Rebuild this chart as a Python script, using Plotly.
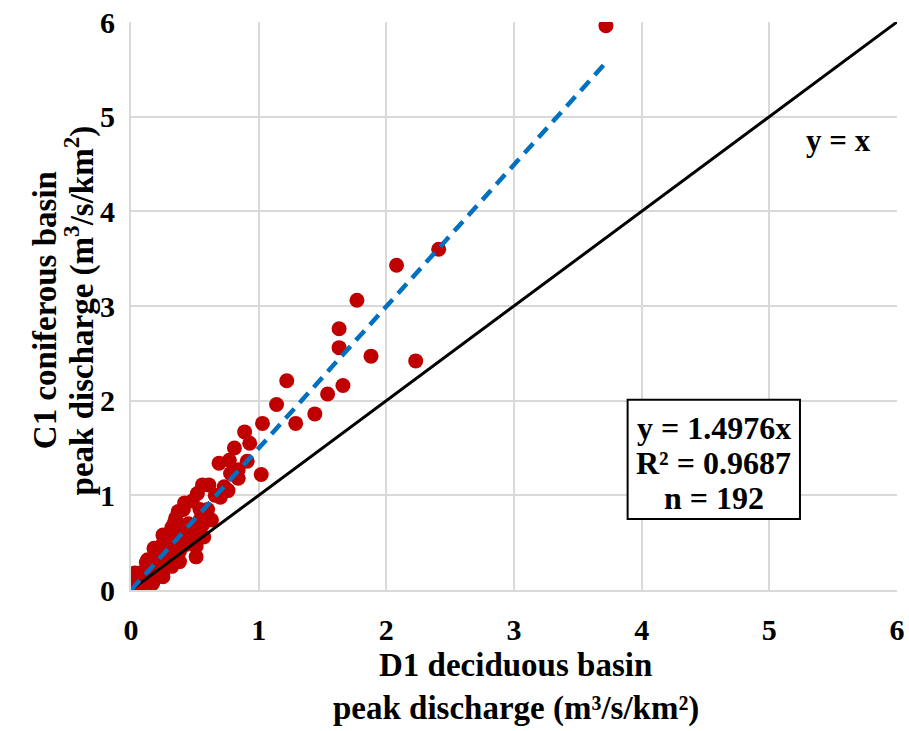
import plotly.graph_objects as go

# Peak discharge per unit area, paired events (D1 deciduous vs C1 coniferous)
d1_peak = [
    3.72, 2.41, 2.08, 2.23, 1.77, 1.88, 1.63, 1.63, 1.66, 1.54,
    1.44, 1.22, 1.14, 1.29, 1.03, 0.89, 0.93, 0.81, 0.69, 0.77,
    0.91, 1.02, 0.84, 0.84, 0.78, 0.61, 0.56, 0.73, 0.76, 0.52,
    0.48, 0.42, 0.41, 0.37, 0.60, 0.54, 0.35, 0.34, 0.63, 0.54,
    0.56, 0.47, 0.33, 0.32, 0.25, 0.52, 0.57, 0.47, 0.43, 0.51,
    0.25, 0.18, 0.19, 0.38, 0.51, 0.38, 0.32, 0.13, 0.12, 0.25,
    0.25, 0.20, 0.07, 0.03, 0.17, 0.08, 0.00, 0.00, 0.10, 0.15,
    0.22, 0.28, 0.30, 0.40, 0.45, 0.05, 0.02, 0.10, 0.14, 0.44,
    0.29, 0.36, 0.66, 0.70,
]
c1_peak = [
    5.96, 3.60, 3.43, 2.42, 3.06, 2.47, 2.76, 2.56, 2.16, 2.07,
    1.86, 2.21, 1.96, 1.76, 1.76, 1.67, 1.55, 1.50, 1.34, 1.37,
    1.36, 1.22, 1.27, 1.18, 1.23, 1.11, 1.11, 1.09, 1.05, 1.02,
    0.94, 0.92, 0.85, 0.83, 0.85, 0.85, 0.76, 0.71, 0.74, 0.74,
    0.69, 0.65, 0.62, 0.66, 0.58, 0.56, 0.56, 0.60, 0.48, 0.46,
    0.49, 0.44, 0.41, 0.41, 0.35, 0.30, 0.25, 0.32, 0.29, 0.19,
    0.14, 0.20, 0.18, 0.18, 0.07, 0.00, 0.05, 0.03, 0.15, 0.22,
    0.33, 0.42, 0.47, 0.62, 0.70, 0.08, 0.02, 0.10, 0.12, 0.68,
    0.38, 0.52, 1.00, 0.98,
]

slope = 1.4976
r_squared = 0.9687
n_events = 192
fit_x_end = 3.73
axis_max = 6
tick_vals = [0, 1, 2, 3, 4, 5, 6]

x_title_lines = ["D1 deciduous basin", "peak discharge (m³/s/km²)"]
y_title_lines = ["C1 coniferous basin", "peak discharge (m<sup>3</sup>/s/km<sup>2</sup>)"]
stats_lines = [f"y = {slope}x", f"R² = {r_squared}", f"n = {n_events}"]

serif = "Liberation Serif"
grid_col = "#D9D9D9"

fig = go.Figure()

fig.add_trace(go.Scatter(
    x=d1_peak, y=c1_peak, mode="markers",
    marker=dict(color="#C00000", size=15, line=dict(width=0)),
    showlegend=False, hoverinfo="x+y",
))

# 1:1 reference line
fig.add_trace(go.Scatter(
    x=[0, axis_max], y=[0, axis_max], mode="lines",
    line=dict(color="black", width=3), showlegend=False, hoverinfo="skip",
))

# Regression through origin
fig.add_trace(go.Scatter(
    x=[0, fit_x_end], y=[0, slope * fit_x_end], mode="lines",
    line=dict(color="#0070C0", width=4.5, dash="13px,8px"),
    showlegend=False, hoverinfo="skip",
))

axis_common = dict(
    range=[0, axis_max], tickvals=tick_vals, showgrid=True,
    gridcolor=grid_col, gridwidth=1.5, showline=True, linecolor=grid_col,
    linewidth=2, zeroline=False, ticks="", automargin=False,
    tickfont=dict(family=serif, size=30, color="black", weight="bold"),
)
fig.update_xaxes(**axis_common, ticklabelstandoff=12)
fig.update_yaxes(**axis_common, ticklabelstandoff=8)

title_font = dict(family=serif, size=33, color="black")

# Axis titles, one annotation per line
for text, y_pos in zip(x_title_lines, [-0.132, -0.208]):
    fig.add_annotation(x=0.502, y=y_pos, xref="paper", yref="paper",
                       text=f"<b>{text}</b>", showarrow=False,
                       font=title_font, xanchor="center", yanchor="middle")
for text, x_pos in zip(y_title_lines, [-0.112, -0.066]):
    fig.add_annotation(x=x_pos, y=0.493, xref="paper", yref="paper",
                       text=f"<b>{text}</b>", showarrow=False, textangle=-90,
                       font=title_font, xanchor="center", yanchor="middle")

fig.add_annotation(
    x=5.54, y=4.75, xref="x", yref="y", showarrow=False,
    text="<b>y = x</b>", font=dict(family=serif, size=31, color="black"),
)

# Regression statistics box
fig.add_shape(type="rect", xref="x", yref="y", x0=3.89, x1=5.24, y0=0.75, y1=2.01,
              line=dict(color="black", width=2), fillcolor="white", layer="above")
for text, y_pos in zip(stats_lines, [1.714, 1.344, 0.974]):
    fig.add_annotation(x=4.565, y=y_pos, xref="x", yref="y", showarrow=False,
                       text=f"<b>{text}</b>",
                       font=dict(family=serif, size=32, color="black"))

fig.update_layout(
    width=909, height=731,
    margin=dict(l=131, r=12, t=22, b=141),
    plot_bgcolor="white", paper_bgcolor="white",
)

fig.write_html("out.html")
